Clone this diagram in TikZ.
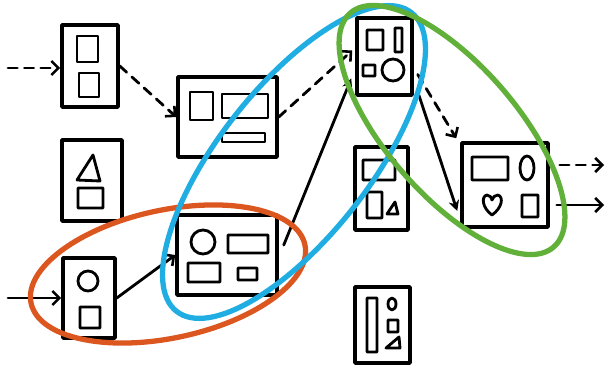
\documentclass[tikz,border=0pt]{standalone}
\usepackage{tikz}
\usetikzlibrary{arrows.meta, positioning, calc}
\usepackage{xcolor}
\definecolor{loopred}{RGB}{220,86,32}
\definecolor{loopblue}{RGB}{32,174,226}
\definecolor{loopgreen}{RGB}{96,176,58}

\begin{document}
\begin{tikzpicture}[x=0.03cm, y=-0.03cm, >={Straight Barb[length=6pt, width=12pt, line width=2.2pt]},
  line join=round, line cap=round,
  card/.style 2 args={draw, line width=3pt, minimum width=#1*0.03cm, minimum height=#2*0.03cm, inner sep=0pt},
  bit/.style={line width=2.4pt},
  flow/.style={->, line width=2.4pt},
  soft/.style={flow, dash pattern=on 8pt off 6pt},
  hard/.style={-{Stealth[length=9pt, width=9pt]}, line width=2.4pt},
  loop/.style={line width=4.5pt}]
\useasboundingbox (0,0) rectangle (609,372);

% boxes
\node[card={56}{82}] (A) at (90,66) {};
\node[card={60}{81}] (B) at (92,180.5) {};
\node[card={99}{80}] (C) at (227.5,117) {};
\node[card={52}{80}] (D) at (89,298) {};
\node[card={100}{80}] (E) at (227,255) {};
\node[card={55}{77}] (F) at (384.5,56.5) {};
\node[card={53}{83}] (G) at (381.5,188.5) {};
\node[card={55}{76}] (H) at (382.5,325) {};
\node[card={86}{84}] (I) at (505,185) {};

% what sits inside them
\draw[bit] (77,36) rectangle (98,62) (79,73) rectangle (99,97);
\draw[bit] (93,155) -- (77,180) -- (100,181) -- cycle (78,188) rectangle (103,208);
\draw[bit] (190,92) rectangle (213,120) (222,94) rectangle (268,118) (222,133) rectangle (265,142);
\draw[bit] (88,281) circle (10) (80,307) rectangle (100,328);
\draw[bit] (203,242) circle (12) (228,235) rectangle (268,253) (188,263) rectangle (220,282) (238,268) rectangle (257,280);
\draw[bit] (367,30) rectangle (383,50) (395,28) rectangle (402,52) (363,65) rectangle (375,76) (393,70) circle (11);
\draw[bit] (363,160) rectangle (395,180) (367,192) rectangle (382,218) (387,214) -- (398,214) -- (395,202) -- cycle;
\draw[bit] (367,298) rectangle (377,352) (392,304) ellipse (4 and 6) (388,320) rectangle (398,332) (386,348) -- (400,348) -- (399,337) -- cycle;
\draw[bit] (472,157) rectangle (508,180) (527,168) ellipse (7 and 12) (522,195) rectangle (538,217);
\draw[bit] (492,215) .. controls (482,208) and (481,196) .. (487,195) .. controls (490,195) and (492,198) .. (492,200)
  .. controls (493,197) and (495,195) .. (498,195) .. controls (504,197) and (502,208) .. (492,215);

% connectors
\coordinate (inA) at (8,68);
\coordinate (inD) at (8,298);
\coordinate (outI) at (604,165);
\coordinate (outJ) at (604,205);
\draw[soft] (inA) -- (inA -| A.west);
\draw[soft] (A.east) -- (C.west);
\draw[soft] (C.east) -- ($(F.west)+(-3,-6)$);
\draw[soft] ($(F.east)+(4,18)$) -- ($(I.north west)+(-4,-3)$);
\draw[soft] ($(outI -| I.east)+(10,0)$) -- (outI);
\draw[flow] (inD) -- (D.west);
\draw[flow] (D.east) -- (E.west);
\draw[hard] ($(E.east)+(5,-10)$) -- ($(F.west)+(-4,22)$);
\draw[hard] ($(F.south east)+(5,-2)$) -- ($(I.west)+(-3,26)$);
\draw[flow] ($(outJ -| I.east)+(7,0)$) -- (outJ);

% groupings
\draw[loop, loopred] (168,274) ellipse[x radius=140, y radius=64, rotate=12];
\draw[loop, loopblue] (294,162) ellipse[x radius=190, y radius=75, rotate=51.8];
\draw[loop, loopgreen] (452,130) ellipse[x radius=155, y radius=65, rotate=-49];
\end{tikzpicture}
\end{document}
